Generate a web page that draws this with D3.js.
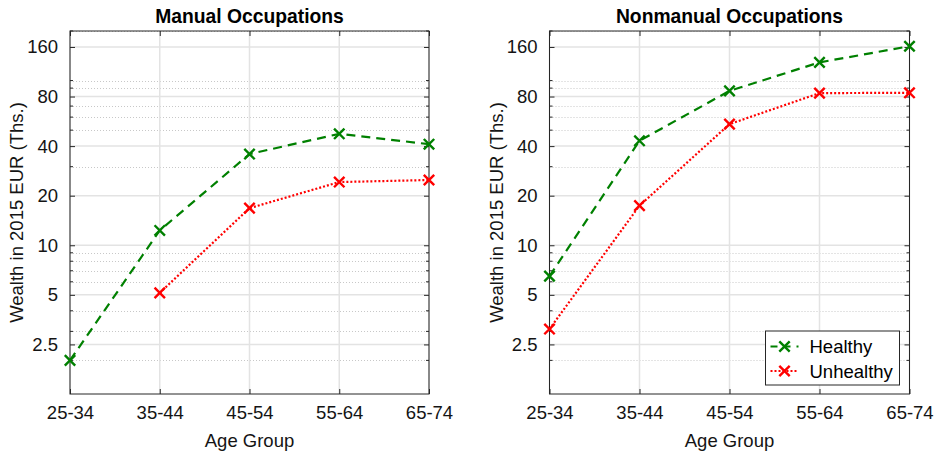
<!DOCTYPE html>
<html>
<head>
<meta charset="utf-8">
<script src="https://cdn.jsdelivr.net/npm/d3@7"></script>
<style>
  html, body { margin: 0; padding: 0; background: #fff; }
  svg { display: block; font-family: "Liberation Sans", Arial, Helvetica, sans-serif; }
</style>
</head>
<body>
<svg id="chart" width="941" height="454"></svg>
<script>
// Age groups on the x axis
const ageGroups = ["25-34", "35-44", "45-54", "55-64", "65-74"];

// Median wealth (thousands of 2015 EUR)
const manualHealthy   = [2.0, 12.3, 35.8, 47.5, 41.1];
const manualUnhealthy = [null, 5.14, 16.8, 24.2, 24.9];
const nonmanualHealthy   = [6.5, 43.1, 86.6, 129, 161.6];
const nonmanualUnhealthy = [3.1, 17.4, 54.4, 83.9, 84.3];

// Log-axis tick labels
const yTicks = [2.5, 5, 10, 20, 40, 80, 160];
const yDomain = [1.25, 200];

const seriesNames = ["Healthy", "Unhealthy"];

const GREEN = "rgb(0,128,0)";
const RED = "rgb(255,0,0)";
const styles = {
  Healthy:   { color: GREEN, dash: "9,6" },
  Unhealthy: { color: RED,   dash: "2,2" }
};

const svg = d3.select("#chart");

const panels = [
  { title: "Manual Occupations", left: 70, right: 429,
    data: { Healthy: manualHealthy, Unhealthy: manualUnhealthy }, legend: false },
  { title: "Nonmanual Occupations", left: 549.5, right: 909.5,
    data: { Healthy: nonmanualHealthy, Unhealthy: nonmanualUnhealthy }, legend: true }
];

const plotTop = 31, plotBottom = 394;
const fontSize = 18.5;
const textColor = "#141414";

// Minor log positions: 1..9 × 10^k inside the domain, excluding major ticks
const minorVals = [];
for (let k = 0; k <= 2; k++) {
  for (let m = 1; m <= 9; m++) {
    const v = m * Math.pow(10, k);
    if (v > yDomain[0] && v <= yDomain[1] && !yTicks.includes(v)) minorVals.push(v);
  }
}

panels.forEach(p => {
  const x = d3.scalePoint().domain(ageGroups).range([p.left, p.right]).padding(0);
  const y = d3.scaleLog().domain(yDomain).range([plotBottom, plotTop]);
  const g = svg.append("g");

  // minor grid (dotted)
  g.append("g").selectAll("line").data(minorVals).join("line")
    .attr("x1", p.left).attr("x2", p.right)
    .attr("y1", d => Math.round(y(d)) + 0.5).attr("y2", d => Math.round(y(d)) + 0.5)
    .attr("stroke", "#c8c8c8").attr("stroke-width", 1).attr("stroke-dasharray", "1,2");

  // major grid
  g.append("g").selectAll("line").data(yTicks).join("line")
    .attr("x1", p.left).attr("x2", p.right)
    .attr("y1", d => y(d)).attr("y2", d => y(d))
    .attr("stroke", "#e3e3e3").attr("stroke-width", 1.5);
  g.append("g").selectAll("line").data(ageGroups).join("line")
    .attr("x1", d => x(d)).attr("x2", d => x(d))
    .attr("y1", plotTop).attr("y2", plotBottom)
    .attr("stroke", "#e3e3e3").attr("stroke-width", 1.5);

  // axes via d3 (labels), ticks drawn inward
  const yAxis = d3.axisLeft(y).tickValues(yTicks).tickFormat(d3.format("")).tickSize(-5).tickPadding(12);
  const yg = g.append("g").attr("transform", `translate(${p.left},0)`).call(yAxis);
  yg.select(".domain").remove();
  yg.selectAll("text").attr("font-size", fontSize).attr("fill", textColor);
  yg.selectAll("line").attr("stroke", "#262626");

  const yAxisR = d3.axisRight(y).tickValues(yTicks).tickFormat("").tickSize(-5);
  const yr = g.append("g").attr("transform", `translate(${p.right},0)`).call(yAxisR);
  yr.select(".domain").remove();
  yr.selectAll("line").attr("stroke", "#262626");

  // minor ticks on both sides
  [[p.left, 3], [p.right, -3]].forEach(([xx, len]) => {
    g.append("g").selectAll("line").data(minorVals).join("line")
      .attr("x1", xx).attr("x2", xx + len)
      .attr("y1", d => y(d)).attr("y2", d => y(d))
      .attr("stroke", "#262626").attr("stroke-width", 1);
  });

  const xAxis = d3.axisBottom(x).tickSize(-5).tickPadding(12);
  const xg = g.append("g").attr("transform", `translate(0,${plotBottom})`).call(xAxis);
  xg.select(".domain").remove();
  xg.selectAll("text").attr("font-size", fontSize).attr("fill", textColor);
  xg.selectAll("line").attr("stroke", "#262626");
  const xAxisT = d3.axisTop(x).tickSize(-5).tickFormat("");
  const xt = g.append("g").attr("transform", `translate(0,${plotTop})`).call(xAxisT);
  xt.select(".domain").remove();
  xt.selectAll("line").attr("stroke", "#262626");

  // box
  g.append("rect").attr("x", p.left).attr("y", plotTop)
    .attr("width", p.right - p.left).attr("height", plotBottom - plotTop)
    .attr("fill", "none").attr("stroke", "#262626").attr("stroke-width", 1);

  // title
  g.append("text").attr("x", (p.left + p.right) / 2).attr("y", 23)
    .attr("text-anchor", "middle").attr("font-weight", "bold").attr("font-size", 19.3)
    .attr("fill", "#000")
    .text(p.title);

  // axis labels
  g.append("text").attr("x", (p.left + p.right) / 2).attr("y", 447)
    .attr("text-anchor", "middle").attr("font-size", fontSize).attr("fill", textColor)
    .text("Age Group");
  g.append("text")
    .attr("transform", `translate(${p.left - 47},${(plotTop + plotBottom) / 2}) rotate(-90)`)
    .attr("text-anchor", "middle").attr("font-size", fontSize).attr("fill", textColor)
    .text("Wealth in 2015 EUR (Ths.)");

  // series
  seriesNames.forEach(name => {
    const vals = p.data[name];
    const pts = ageGroups.map((a, i) => ({ a, v: vals[i] })).filter(d => d.v != null);
    const st = styles[name];
    g.append("path").datum(pts)
      .attr("d", d3.line().x(d => x(d.a)).y(d => y(d.v)))
      .attr("fill", "none").attr("stroke", st.color).attr("stroke-width", 2.2)
      .attr("stroke-dasharray", st.dash);
    const s = 5.2;
    g.append("g").selectAll("path").data(pts).join("path")
      .attr("d", d => {
        const cx = x(d.a), cy = y(d.v);
        return `M${cx - s},${cy - s}L${cx + s},${cy + s}M${cx - s},${cy + s}L${cx + s},${cy - s}`;
      })
      .attr("stroke", st.color).attr("stroke-width", 2.4).attr("fill", "none");
  });

  if (p.legend) {
    const lx = 765.5, ly = 331, lw = 134, lh = 54;
    const lg = g.append("g");
    lg.append("rect").attr("x", lx).attr("y", ly).attr("width", lw).attr("height", lh)
      .attr("fill", "#fff").attr("stroke", "#262626").attr("stroke-width", 1);
    seriesNames.forEach((name, i) => {
      const st = styles[name];
      const cy = ly + 15.5 + i * 24.5;
      lg.append("line").attr("x1", lx + 5).attr("x2", lx + 33).attr("y1", cy).attr("y2", cy)
        .attr("stroke", st.color).attr("stroke-width", 2.2)
        .attr("stroke-dasharray", name === "Healthy" ? "7,6" : "2,2");
      const cx = lx + 19, s = 5.2;
      lg.append("path")
        .attr("d", `M${cx - s},${cy - s}L${cx + s},${cy + s}M${cx - s},${cy + s}L${cx + s},${cy - s}`)
        .attr("stroke", st.color).attr("stroke-width", 2.4);
      lg.append("text").attr("x", lx + 44).attr("y", cy + 6.5)
        .attr("font-size", fontSize).attr("fill", "#000").text(name);
    });
  }
});
</script>
</body>
</html>
